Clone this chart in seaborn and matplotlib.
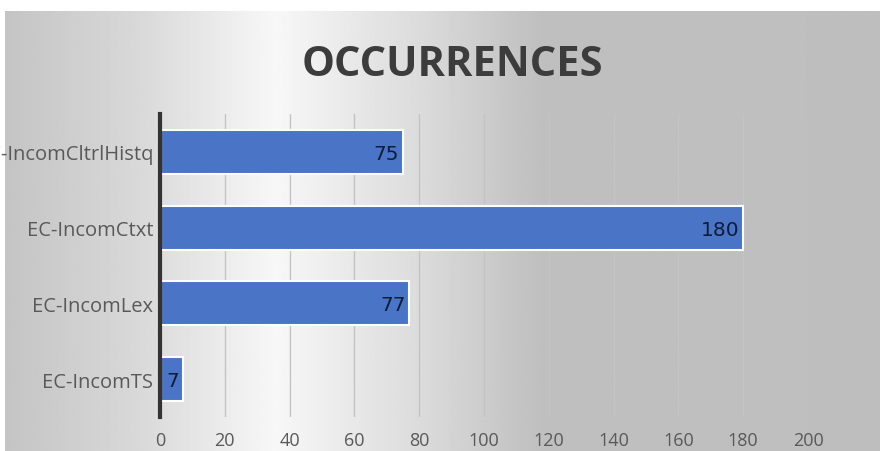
import numpy as np
import pandas as pd
import matplotlib
matplotlib.use("Agg")
import matplotlib.pyplot as plt
import seaborn as sns

categories = ["EC-IncomCltrlHistq", "EC-IncomCtxt", "EC-IncomLex", "EC-IncomTS"]
occurrences = [75, 180, 77, 7]
x_ticks = [0, 20, 40, 60, 80, 100, 120, 140, 160, 180, 200]

df = pd.DataFrame({"category": categories, "count": occurrences})

sns.set_style("white")
plt.rcParams["font.family"] = ["Open Sans", "DejaVu Sans"]

fig = plt.figure(figsize=(8.8, 4.52), dpi=100)
fig.patch.set_facecolor("white")

# gradient backdrop (grey -> white -> grey, flat on the right)
bg = fig.add_axes([5 / 880, 0, 875 / 880, 440 / 452], zorder=0)
px = np.linspace(5, 880, 600)
shade = np.interp(px, [5, 140, 275, 420, 540, 880], [0.77, 0.85, 0.97, 0.86, 0.75, 0.745])
bg.imshow(np.tile(shade, (2, 1)), cmap="gray", vmin=0, vmax=1, aspect="auto",
          extent=[0, 1, 0, 1])
bg.axis("off")

ax = fig.add_axes([160 / 880, 34 / 452, 648 / 880, 303 / 452], zorder=1)
ax.patch.set_alpha(0)
sns.barplot(data=df, y="category", x="count", orient="h", color="#4a74c6",
            saturation=1, edgecolor="white", linewidth=1.5, width=0.58,
            ax=ax, zorder=2)

# value labels inside the bar ends (first label is clipped in the original too)
for i, v in enumerate(occurrences):
    ax.text(v - 1.2, i + 0.02, str(v), ha="right", va="center", fontsize=14.5,
            color="#101c38", family="DejaVu Sans", zorder=3)

ax.set_xlim(0, 200)
ax.set_ylim(3.5, -0.5)
ax.set_xticks(x_ticks)
ax.xaxis.grid(True, color="#c4c4c4", linewidth=1)
ax.yaxis.grid(False)
ax.set_axisbelow(True)
for s in ["top", "right", "bottom"]:
    ax.spines[s].set_visible(False)
ax.spines["left"].set_color("#333333")
ax.spines["left"].set_linewidth(3)
ax.tick_params(axis="both", length=0, labelcolor="#595959")
ax.tick_params(axis="x", pad=10, labelsize=13)
ax.tick_params(axis="y", pad=5, labelsize=14.5)
ax.set_xlabel("")
ax.set_ylabel("")

fig.text(452 / 880, 1 - 66 / 452, "OCCURRENCES", ha="center", va="center",
         fontsize=30, fontweight="bold", color="#3c3c3c")

fig.savefig("out.png", dpi=100)
